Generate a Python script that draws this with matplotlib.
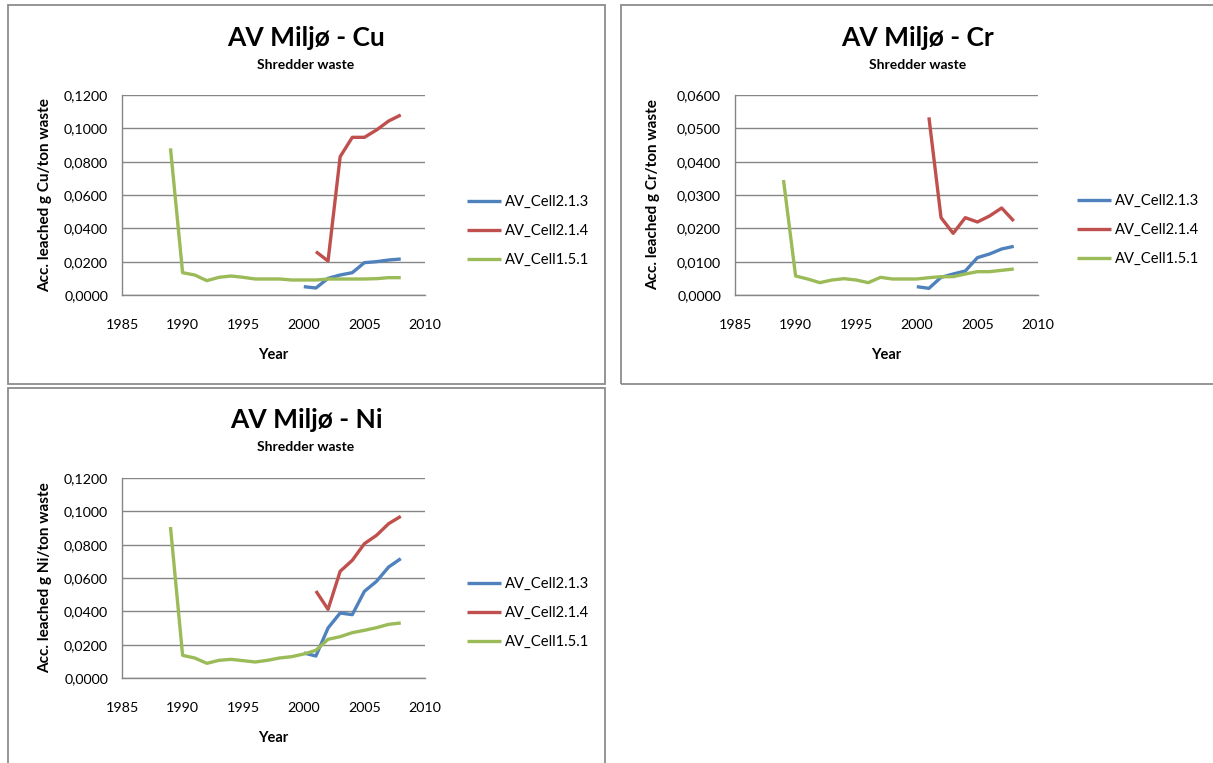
import numpy as np
import matplotlib
matplotlib.use("Agg")
import matplotlib.pyplot as plt
from matplotlib.patches import Rectangle
from matplotlib.ticker import FuncFormatter, MultipleLocator

plt.rcParams['font.family'] = ['Lato', 'DejaVu Sans']

# years for each series
years_213 = list(range(2000, 2009))
years_214 = list(range(2001, 2009))
years_151 = list(range(1989, 2009))

labels = ["AV_Cell2.1.3", "AV_Cell2.1.4", "AV_Cell1.5.1"]
colors = ["#4F81BD", "#C0504D", "#9BBB59"]

# Cu
cu_213 = [0.0050, 0.0042, 0.0100, 0.0120, 0.0134, 0.0194, 0.0200, 0.0210, 0.0216]
cu_214 = [0.0260, 0.0204, 0.0830, 0.0946, 0.0946, 0.0990, 0.1044, 0.1080]
cu_151 = [0.0880, 0.0134, 0.0120, 0.0086, 0.0106, 0.0114, 0.0106, 0.0096, 0.0096, 0.0096,
          0.0090, 0.0090, 0.0090, 0.0096, 0.0096, 0.0096, 0.0096, 0.0098, 0.0104, 0.0104]

# Cr
cr_213 = [0.0025, 0.0020, 0.0053, 0.0063, 0.0072, 0.0112, 0.0123, 0.0138, 0.0146]
cr_214 = [0.0533, 0.0232, 0.0185, 0.0232, 0.0219, 0.0237, 0.0261, 0.0222]
cr_151 = [0.0345, 0.0057, 0.0048, 0.0037, 0.0045, 0.0049, 0.0045, 0.0037, 0.0053, 0.0048,
          0.0048, 0.0048, 0.0052, 0.0055, 0.0055, 0.0063, 0.0070, 0.0070, 0.0074, 0.0078]

# Ni
ni_213 = [0.0150, 0.0132, 0.0300, 0.0390, 0.0380, 0.0520, 0.0580, 0.0666, 0.0716]
ni_214 = [0.0522, 0.0412, 0.0640, 0.0706, 0.0806, 0.0856, 0.0926, 0.0970]
ni_151 = [0.0906, 0.0136, 0.0120, 0.0088, 0.0106, 0.0112, 0.0104, 0.0096, 0.0106, 0.0120,
          0.0128, 0.0144, 0.0166, 0.0232, 0.0248, 0.0272, 0.0286, 0.0302, 0.0322, 0.0330]

W, H = 1213, 763
fig = plt.figure(figsize=(W / 100, H / 100), dpi=100)


def px_rect(x0, y0, x1, y1):
    return [x0 / W, 1 - y1 / H, (x1 - x0) / W, (y1 - y0) / H]


def fx(x):
    return x / W


def fy(y):
    return 1 - y / H


# panel borders
for (x0, y0, x1, y1) in [(8, 5, 605, 384), (621, 5, 1225, 384), (8, 388, 605, 775)]:
    fig.patches.append(Rectangle((fx(x0), fy(y1)), fx(x1 - x0), (y1 - y0) / H,
                                 transform=fig.transFigure, fill=False,
                                 edgecolor="#8c8c8c", linewidth=1.3, zorder=0))


def chart(box, series, ymax, ystep, metal, title_xy, legend_xy, ylab_x):
    ax = fig.add_axes(px_rect(*box))
    for (yrs, vals), c, lab in zip(series, colors, labels):
        ax.plot(yrs, vals, color=c, linewidth=2.4, label=lab, solid_capstyle='butt')
    ax.set_xlim(1985, 2010)
    ax.set_ylim(0, ymax)
    ax.xaxis.set_major_locator(MultipleLocator(5))
    ax.yaxis.set_major_locator(MultipleLocator(ystep))
    ax.yaxis.set_major_formatter(FuncFormatter(lambda v, p: f"{v:.4f}".replace('.', ',')))
    ax.grid(axis='y', color="#868686", linewidth=1.0)
    ax.set_axisbelow(True)
    for s in ['top', 'right']:
        ax.spines[s].set_visible(False)
    for s in ['left', 'bottom']:
        ax.spines[s].set_color("#868686")
        ax.spines[s].set_linewidth(1.0)
    ax.tick_params(length=0, labelsize=10.3, colors="black")
    ax.tick_params(axis='x', pad=17)
    ax.tick_params(axis='y', pad=10)

    tx, ty = title_xy
    fig.text(fx(tx), fy(ty), f"AV Miljø - {metal}", ha='center', va='center',
             fontsize=19, fontweight='bold')
    fig.text(fx(tx), fy(ty + 27), "Shredder waste", ha='center', va='center',
             fontsize=10, fontweight='bold')
    cx = (box[0] + box[2]) / 2
    fig.text(fx(cx), fy(box[3] + 60), "Year", ha='center', va='center',
             fontsize=10.5, fontweight='bold')
    fig.text(fx(ylab_x), fy((box[1] + box[3]) / 2), f"Acc. leached g {metal}/ton waste",
             ha='center', va='center', rotation=90, fontsize=11, fontweight='bold')
    lx, ly = legend_xy
    ax.legend(loc='center left', bbox_to_anchor=(fx(lx), fy(ly)),
              bbox_transform=fig.transFigure, frameon=False, fontsize=10.6,
              handlelength=2.3, handletextpad=0.25, labelspacing=1.0,
              borderpad=0, borderaxespad=0)
    return ax


chart((122, 95, 425, 295),
      [(years_213, cu_213), (years_214, cu_214), (years_151, cu_151)],
      0.12, 0.02, "Cu", (306, 38), (467, 231), 45)
chart((735, 95, 1038, 295),
      [(years_213, cr_213), (years_214, cr_214), (years_151, cr_151)],
      0.06, 0.01, "Cr", (918, 38), (1077, 230), 653)
chart((122, 478, 425, 678),
      [(years_213, ni_213), (years_214, ni_214), (years_151, ni_151)],
      0.12, 0.02, "Ni", (306, 420), (467, 613), 45)

fig.savefig("out.png", dpi=100)
